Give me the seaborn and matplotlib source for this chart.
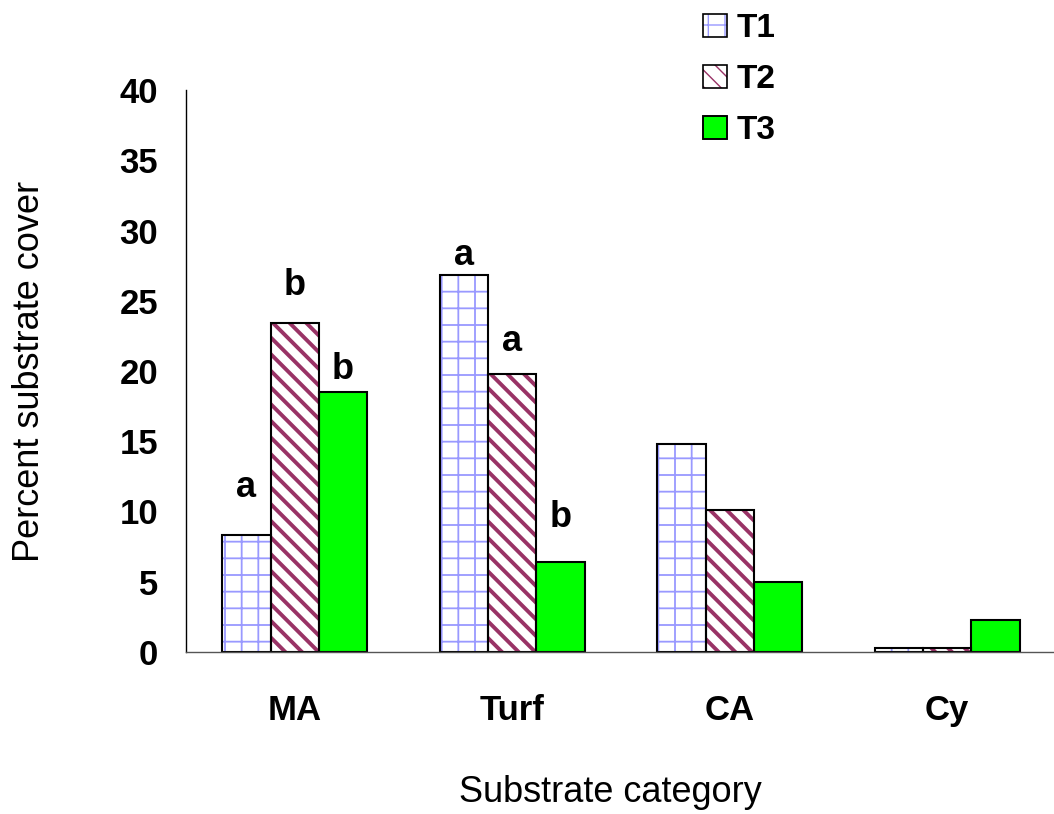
import matplotlib
matplotlib.use("Agg")
import matplotlib.pyplot as plt
import seaborn as sns
import pandas as pd
from matplotlib.patches import Rectangle, Patch
from matplotlib.legend_handler import HandlerTuple

categories = ["MA", "Turf", "CA", "Cy"]
treatments = ["T1", "T2", "T3"]
t1_values = [8.3, 26.8, 14.8, 0.3]
t2_values = [23.4, 19.8, 10.1, 0.25]
t3_values = [18.5, 6.4, 5.0, 2.3]

# significance letters per (category, treatment)
letters = {("MA", "T1"): "a", ("MA", "T2"): "b", ("MA", "T3"): "b",
           ("Turf", "T1"): "a", ("Turf", "T2"): "a", ("Turf", "T3"): "b"}
letter_y = {("MA", "T1"): 11.7, ("MA", "T2"): 26.1, ("MA", "T3"): 20.1,
            ("Turf", "T1"): 28.2, ("Turf", "T2"): 22.1, ("Turf", "T3"): 9.6}

df = pd.DataFrame({
    "category": categories * 3,
    "treatment": [t for t in treatments for _ in categories],
    "value": t1_values + t2_values + t3_values,
})

sns.set_theme(style="white")
plt.rcParams["font.family"] = ["Liberation Sans", "DejaVu Sans"]
plt.rcParams["text.color"] = "black"
plt.rcParams["axes.labelcolor"] = "black"
plt.rcParams["xtick.color"] = "black"
plt.rcParams["ytick.color"] = "black"

fig = plt.figure(figsize=(10.54, 8.14), dpi=100)
ax = fig.add_axes([186 / 1054, 1 - 652 / 814, 870 / 1054, (652 - 90) / 814])

face = {"T1": "white", "T2": "white", "T3": "#00FF00"}
hatch = {"T1": "+", "T2": "\\\\", "T3": ""}
hatch_col = {"T1": "#9999FF", "T2": "#993366", "T3": "black"}
hatch_lw = {"T1": 1.3, "T2": 2.8, "T3": 1.0}


def apply_hatch(p, t, lw=None):
    p.set_hatch(hatch[t])
    lw = hatch_lw[t] if lw is None else lw
    if hasattr(p, "set_hatch_linewidth"):
        p.set_hatch_linewidth(lw)
    else:
        p._hatch_linewidth = lw


sns.barplot(data=df, x="category", y="value", hue="treatment", order=categories,
            hue_order=treatments, palette=face, width=0.667, saturation=1,
            errorbar=None, legend=False, ax=ax)

for cont, t in zip(ax.containers, treatments):
    for bar, cat in zip(cont, categories):
        x, y = bar.get_x(), bar.get_y()
        w, h = bar.get_width(), bar.get_height()
        if hatch[t]:
            apply_hatch(bar, t)
            bar.set_edgecolor(hatch_col[t])
            bar.set_linewidth(0)
            ax.add_patch(Rectangle((x, y), w, h, fill=False, edgecolor="black",
                                   linewidth=1.5, zorder=bar.get_zorder() + 0.1))
        else:
            bar.set_edgecolor("black")
            bar.set_linewidth(1.5)
        if (cat, t) in letters:
            ax.text(x + w / 2, letter_y[(cat, t)], letters[(cat, t)], ha="center",
                    va="center", fontsize=26, fontweight="bold", color="black")

ax.set_ylim(0, 40)
ax.set_xlim(-0.5, 3.5)
ax.set_yticks(range(0, 41, 5))
ax.set_yticklabels([str(v) for v in range(0, 41, 5)], fontsize=25, fontweight="bold")
ax.set_xticks(range(len(categories)))
ax.set_xticklabels(categories, fontsize=25, fontweight="bold")
ax.set_xticks([-0.5, 0.5, 1.5, 2.5], minor=True)
ax.tick_params(axis="x", which="major", length=0, pad=30)
ax.tick_params(axis="x", which="minor", length=7, width=1, color="black", direction="out")
ax.tick_params(axis="y", length=8.6, width=1, color="black", direction="out", pad=11.5)

for s in ["top", "right"]:
    ax.spines[s].set_visible(False)
ax.spines["left"].set_color("black")
ax.spines["bottom"].set_color("#555555")
ax.spines["left"].set_linewidth(1)
ax.spines["bottom"].set_linewidth(1)

ax.set_xlabel("Substrate category", fontsize=26)
ax.xaxis.set_label_coords((610 - 186) / 870, -(775 - 652) / 562)
ax.set_ylabel("Percent substrate cover", fontsize=26, labelpad=52)

handles = []
for t in treatments:
    fillp = Patch(facecolor=face[t], edgecolor=hatch_col[t] if hatch[t] else "black",
                  linewidth=0 if hatch[t] else 1.2)
    if hatch[t]:
        apply_hatch(fillp, t, lw=1.3)
    outline = Patch(facecolor="none", edgecolor="black", linewidth=1.2)
    handles.append((fillp, outline))

leg = fig.legend(handles, treatments, loc="upper left", bbox_to_anchor=(703 / 1054, 1 - 13 / 814),
                 frameon=False, prop={"size": 24, "weight": "bold"}, borderpad=0,
                 borderaxespad=0, handlelength=0.72, handleheight=0.7,
                 handletextpad=0.3, labelspacing=0.6,
                 handler_map={tuple: HandlerTuple(ndivide=1, pad=0)})

fig.savefig("out.png", dpi=100)
